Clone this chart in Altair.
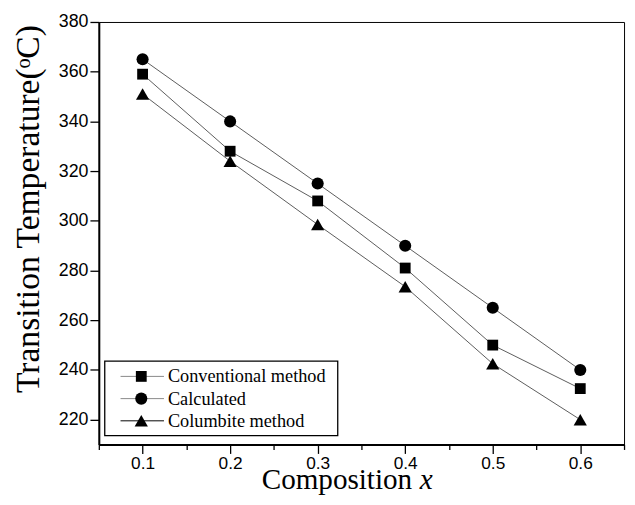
import altair as alt
import pandas as pd

# ---- data ----
series_names = ["Conventional method", "Calculated", "Columbite method"]
composition = [0.1, 0.2, 0.3, 0.4, 0.5, 0.6]
conventional = [359, 328, 308, 281, 250, 232.5]
calculated = [365, 340, 315, 290, 265, 240]
columbite = [351, 324, 298.5, 273.5, 242.5, 220]

x_ticks = [0.05, 0.1, 0.15, 0.2, 0.25, 0.3, 0.35, 0.4, 0.45, 0.5, 0.55, 0.6, 0.65]
y_ticks = [220, 240, 260, 280, 300, 320, 340, 360, 380]

rows = []
for name, vals in zip(series_names, [conventional, calculated, columbite]):
    for xv, yv in zip(composition, vals):
        rows.append({"series": name, "x": xv, "temp": yv})
df = pd.DataFrame(rows)
leg_df = pd.DataFrame({"series": series_names})

W, H = 532, 428

shape_scale = alt.Scale(domain=series_names, range=["square", "circle", "triangle-up"])
size_scale = alt.Scale(domain=series_names, range=[120, 180, 180])

xenc = alt.X(
    "x:Q",
    scale=alt.Scale(domain=[0.05, 0.65], nice=False, zero=False),
    axis=alt.Axis(
        values=x_ticks,
        title=None,
        labelExpr="(round(datum.value*100) % 10 == 0) ? format(datum.value, '.1f') : ''",
        tickSize={"condition": {"test": "round(datum.value*100) % 10 == 0", "value": 9}, "value": 5},
        labelPadding=1,
        labelFontSize=17.5,
    ),
)
yenc = alt.Y(
    "temp:Q",
    scale=alt.Scale(domain=[210, 380], nice=False, zero=False),
    axis=alt.Axis(values=y_ticks, title=None, tickSize=9, labelPadding=2),
)

base = alt.Chart(df)
lines = base.mark_line(color="#333333", strokeWidth=0.8).encode(x=xenc, y=yenc, detail="series:N")
points = base.mark_point(filled=True, color="black", opacity=1).encode(
    x=xenc,
    y=yenc,
    shape=alt.Shape("series:N", scale=shape_scale, legend=None),
    size=alt.Size("series:N", scale=size_scale, legend=None),
)
main = alt.layer(lines, points)

# ---- legend (manual) ----
leg_y = alt.Y(
    "series:N",
    scale=alt.Scale(type="point", domain=series_names, range=[359, 404], padding=0),
    axis=None,
)
leg_box = alt.Chart(pd.DataFrame({"a": [0]})).mark_rect(
    fill="white", stroke="black", strokeWidth=1.3
).encode(x=alt.value(6), x2=alt.value(242), y=alt.value(343.5), y2=alt.value(419))
leg_rule = alt.Chart(leg_df).mark_rule(strokeWidth=1).encode(
    x=alt.value(22),
    x2=alt.value(66),
    y=leg_y,
    color=alt.Color(
        "series:N",
        scale=alt.Scale(domain=series_names, range=["#888888", "#888888", "#000000"]),
        legend=None,
    ),
)
leg_pts = alt.Chart(leg_df).mark_point(filled=True, color="black", opacity=1).encode(
    x=alt.value(43),
    y=leg_y,
    shape=alt.Shape("series:N", scale=shape_scale, legend=None),
    size=alt.Size("series:N", scale=alt.Scale(domain=series_names, range=[70, 100, 100]), legend=None),
)
leg_txt = alt.Chart(leg_df).mark_text(
    align="left", baseline="middle", font="Liberation Serif", fontSize=18.5, color="black"
).encode(x=alt.value(70), y=leg_y, text="series:N")
legend = alt.layer(leg_box, leg_rule, leg_pts, leg_txt)

# ---- axis titles as text ----
title_df = pd.DataFrame({"a": [0]})
xt1 = alt.Chart(title_df).mark_text(
    text="Composition", align="left", baseline="alphabetic",
    font="Liberation Serif", fontSize=29.5, color="black",
).encode(x=alt.value(165), y=alt.value(473.5))
xt2 = alt.Chart(title_df).mark_text(
    text="x", align="left", baseline="alphabetic",
    font="Liberation Serif", fontSize=29.5, fontStyle="italic", color="black",
).encode(x=alt.value(325), y=alt.value(473.5))
yt = alt.Chart(title_df).mark_text(
    text="Transition Temperature(\u1d52C)", align="center", baseline="alphabetic", angle=270,
    font="Liberation Serif", fontSize=34, color="black",
).encode(x=alt.value(-61), y=alt.value(189.5))
titles = alt.layer(xt1, xt2, yt)

chart = (
    alt.layer(main, legend, titles)
    .resolve_scale(y="independent")
    .properties(
        width=W,
        height=H,
        autosize=alt.AutoSizeParams(type="none"),
        padding={"left": 92, "top": 11, "right": 3, "bottom": 50},
    )
    .configure_view(stroke="black", strokeWidth=1)
    .configure_axis(
        domainColor="black",
        domainWidth=2,
        tickColor="black",
        tickWidth=1.3,
        labelFont="Liberation Sans",
        labelFontSize=18,
        labelColor="black",
        grid=False,
    )
)

chart.save("out.html", embed_options={"renderer": "svg", "actions": False})
